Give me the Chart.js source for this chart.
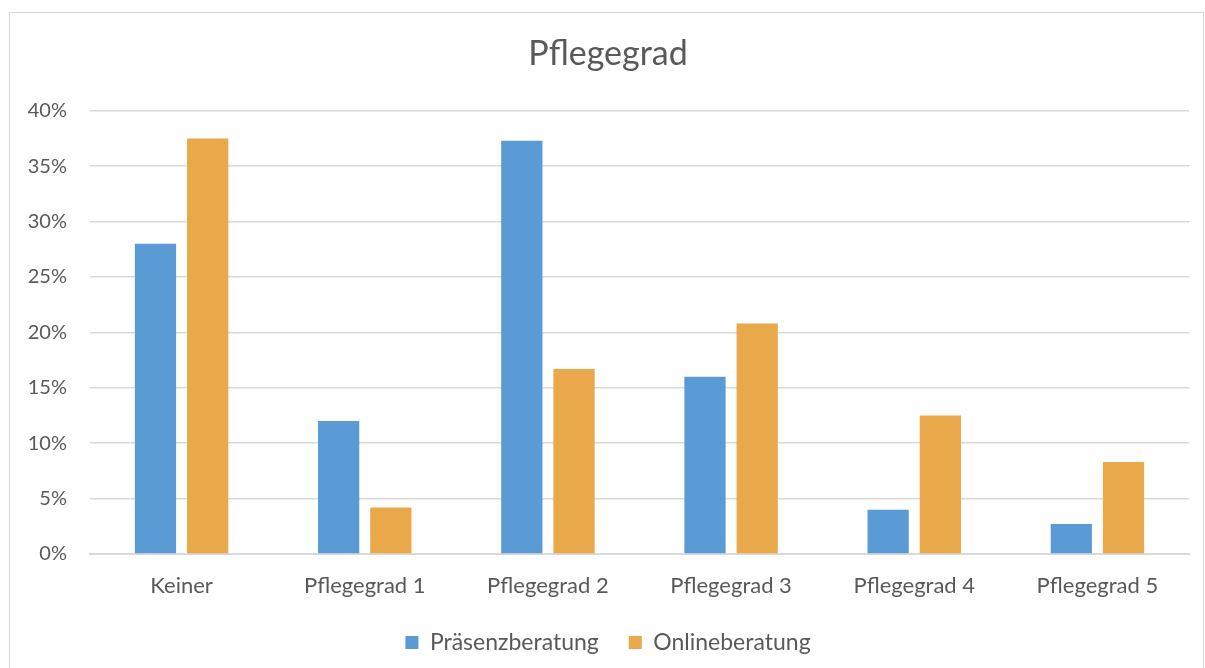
<!DOCTYPE html>
<html>
<head>
<meta charset="utf-8">
<script src="https://cdn.jsdelivr.net/npm/chart.js@4"></script>
<style>
  html, body { margin: 0; padding: 0; background: #fff; overflow: hidden; }
  #frame { position: absolute; left: 9px; top: 12px; width: 1193px; height: 670px; border: 1px solid #d9d9d9; }
</style>
</head>
<body>
<div id="frame"><canvas id="pflegeChart" width="1193" height="656"></canvas></div>
<script>
const categories = ['Keiner', 'Pflegegrad 1', 'Pflegegrad 2', 'Pflegegrad 3', 'Pflegegrad 4', 'Pflegegrad 5'];
const praesenz = [28, 12, 37.3, 16, 4, 2.7];
const online = [37.5, 4.2, 16.7, 20.8, 12.5, 8.3];

const textColor = '#595959';
const gridColor = '#d9d9d9';
const font = 'Lato, "Open Sans", sans-serif';

const ctx = document.getElementById('pflegeChart').getContext('2d');
new Chart(ctx, {
  type: 'bar',
  data: {
    labels: categories,
    datasets: [
      {
        label: 'Präsenzberatung',
        data: praesenz,
        backgroundColor: '#5b9bd5'
      },
      {
        label: 'Onlineberatung',
        data: online,
        backgroundColor: '#e9a84a'
      }
    ]
  },
  options: {
    responsive: false,
    animation: false,
    categoryPercentage: 0.57,
    barPercentage: 0.79,
    layout: { padding: { left: 17, right: 14, top: 4, bottom: 5 } },
    plugins: {
      title: {
        display: true,
        text: 'Pflegegrad',
        color: textColor,
        font: { family: font, size: 34, weight: 'normal' },
        padding: { top: 17, bottom: 36 }
      },
      legend: {
        position: 'bottom',
        labels: {
          color: textColor,
          font: { family: font, size: 23 },
          boxWidth: 13,
          boxHeight: 13,
          padding: 30
        }
      },
      tooltip: { enabled: false }
    },
    scales: {
      x: {
        afterFit: scale => { scale.height = 47; },
        grid: { display: false, drawTicks: false },
        border: { color: gridColor, width: 2 },
        ticks: { color: textColor, font: { family: font, size: 22 }, padding: 19 }
      },
      y: {
        min: 0,
        max: 40,
        afterFit: scale => { scale.width = 63; },
        grid: { color: gridColor, lineWidth: 1.5, drawTicks: false },
        border: { display: false },
        ticks: {
          stepSize: 5,
          color: textColor,
          font: { family: font, size: 20 },
          padding: 23,
          callback: v => v + '%'
        }
      }
    }
  }
});
</script>
</body>
</html>
